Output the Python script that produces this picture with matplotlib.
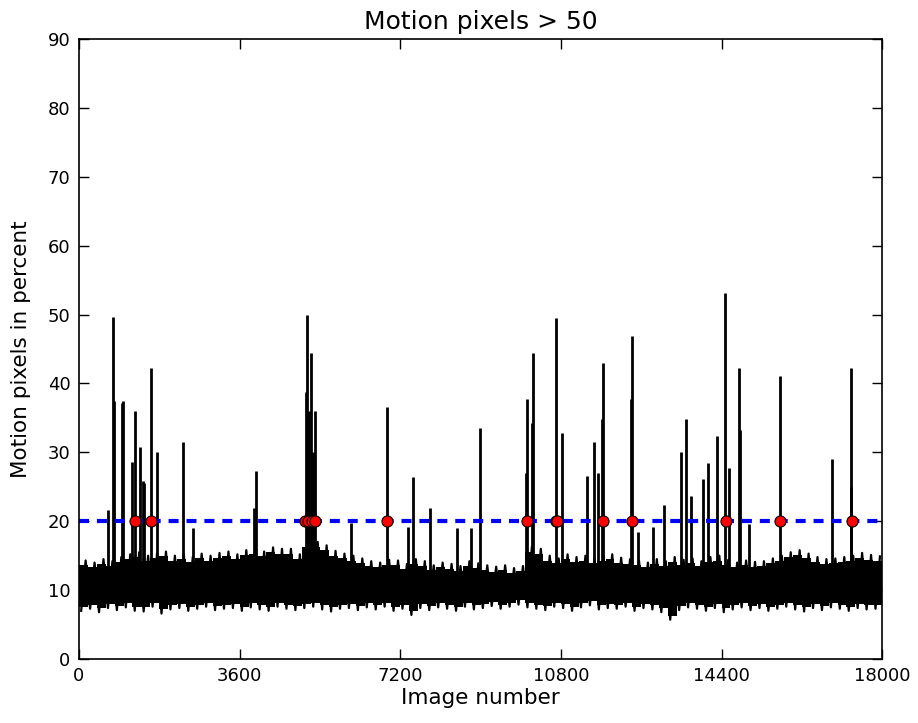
import numpy as np
import matplotlib
matplotlib.use("Agg")
import matplotlib.pyplot as plt

# baseline noise band, read per 200-image bin (low / high envelope, percent)
bin_width = 200
band_low = [7.0, 7.3, 6.8, 7.4, 7.1, 7.5, 7.0, 6.9, 7.6, 6.6,
            7.2, 7.4, 7.0, 7.3, 7.6, 7.1, 7.3, 7.4, 7.0, 7.5,
            7.2, 7.0, 7.6, 7.3, 7.1, 7.4, 7.6, 7.2, 6.9, 7.3,
            7.4, 7.1, 7.5, 7.2, 7.6, 7.0, 7.3, 6.4, 7.4, 7.1,
            7.5, 7.3, 7.0, 7.6, 7.2, 7.4, 7.7, 7.3, 7.6, 7.9,
            7.5, 7.3, 7.1, 7.6, 7.4, 7.0, 7.5, 7.8, 7.2, 7.4,
            7.3, 7.6, 7.0, 7.4, 7.2, 6.8, 5.7, 7.1, 7.5, 7.3,
            7.0, 7.4, 6.8, 7.2, 7.5, 7.1, 7.4, 7.0, 7.3, 7.6,
            7.2, 6.9, 7.4, 7.1, 7.5, 7.3, 7.0, 7.4, 7.2, 7.3]
band_high = [14.3, 14.0, 14.5, 14.2, 14.8, 15.2, 15.5, 15.0, 15.3, 15.6,
             15.0, 15.2, 14.8, 15.3, 15.0, 15.4, 15.6, 15.2, 15.8, 16.0,
             15.6, 16.2, 16.0, 16.0, 15.2, 17.0, 17.0, 16.5, 15.7, 15.3,
             15.0, 14.6, 14.2, 14.0, 14.4, 14.3, 13.8, 14.5, 14.2, 13.6,
             14.0, 13.8, 13.5, 14.2, 13.9, 13.6, 13.4, 13.6, 13.2, 13.5,
             16.3, 16.0, 15.0, 14.6, 15.2, 14.8, 15.0, 14.6, 14.9, 15.2,
             14.7, 14.5, 14.3, 14.0, 14.5, 14.2, 14.8, 14.4, 14.6, 14.2,
             14.8, 15.0, 14.4, 14.0, 14.3, 14.1, 14.2, 14.6, 15.0, 15.5,
             15.8, 15.3, 14.8, 14.5, 14.6, 14.8, 15.0, 15.4, 15.1, 14.9]

# single-frame spikes: image number and peak value
spike_img = [657, 755, 792, 957, 993, 1181, 1248, 1367, 1427, 1457,
             1621, 1748, 2324, 2562, 3930, 3961, 5088, 5118, 5150, 5201,
             5250, 5290, 6097, 6897, 7382, 7480, 7868, 8466, 8780, 8989,
             10010, 10036, 10150, 10170, 10693, 10820, 11380, 11545, 11640, 11720,
             11738, 12380, 12389, 12524, 12874, 13113, 13494, 13606, 13712, 13995,
             14107, 14301, 14481, 14571, 14780, 14817, 15019, 15699, 16873, 17290,
             17305]
spike_val = [21.6, 49.7, 37.4, 37.2, 37.5, 28.6, 36.0, 30.8, 25.8, 25.5,
             42.2, 30.0, 31.5, 19.0, 21.9, 27.3, 38.8, 49.9, 36.0, 44.4,
             30.0, 36.0, 19.7, 36.6, 19.2, 26.4, 21.9, 19.0, 19.0, 33.5,
             27.0, 37.8, 34.2, 44.4, 49.5, 32.8, 26.6, 31.5, 27.0, 34.9,
             43.0, 37.8, 46.9, 18.4, 19.2, 22.4, 30.1, 34.9, 23.6, 26.1,
             28.4, 32.4, 53.2, 27.7, 42.2, 33.3, 19.6, 41.1, 29.0, 25.0,
             42.3]

# frames flagged above the threshold
threshold = 20
event_img = [1263, 1607, 5070, 5140, 5220, 5300, 6897, 10036, 10690, 10720,
             11754, 12389, 14496, 15714, 17320]

n_images = 18000

fig = plt.figure(figsize=(9.18, 7.23), dpi=100)
ax = fig.add_axes([0.086, 0.0885, 0.875, 0.8575])

low = np.array(band_low)
high = np.array(band_high)
edges = np.arange(len(low) + 1) * bin_width
# solid core of the band
ax.fill_between(edges, np.append(low + 0.6, low[-1] + 0.6),
                np.append(high - 0.7, high[-1] - 0.7),
                step="post", color="k", lw=0)
# jagged edges: each bin goes down to its low and up to its high
zx = np.ravel(np.column_stack([edges[:-1] + 50, edges[:-1] + 150]))
zy = np.ravel(np.column_stack([low, high]))
ax.plot(zx, zy, color="k", lw=1.6)
ax.vlines(spike_img, 10, spike_val, color="k", lw=2)

ax.plot([0, n_images], [threshold, threshold], color="b", lw=3, dashes=(2.4, 1.9))
ax.plot(event_img, [threshold] * len(event_img), "o", color="red",
        markeredgecolor="k", markeredgewidth=0.8, markersize=8)

ax.set_xlim(0, n_images)
ax.set_ylim(0, 90)
ax.set_xticks(range(0, n_images + 1, 3600))
ax.set_yticks(range(0, 91, 10))
ax.tick_params(direction="in", top=True, right=True, length=7, width=1,
               labelsize=13, pad=6)
for s in ax.spines.values():
    s.set_linewidth(1.2)

ax.set_title("Motion pixels > 50", fontsize=18, pad=7)
ax.set_xlabel("Image number", fontsize=15.5, labelpad=2)
ax.set_ylabel("Motion pixels in percent", fontsize=15.5, labelpad=12)

fig.savefig("out.png", dpi=100)
